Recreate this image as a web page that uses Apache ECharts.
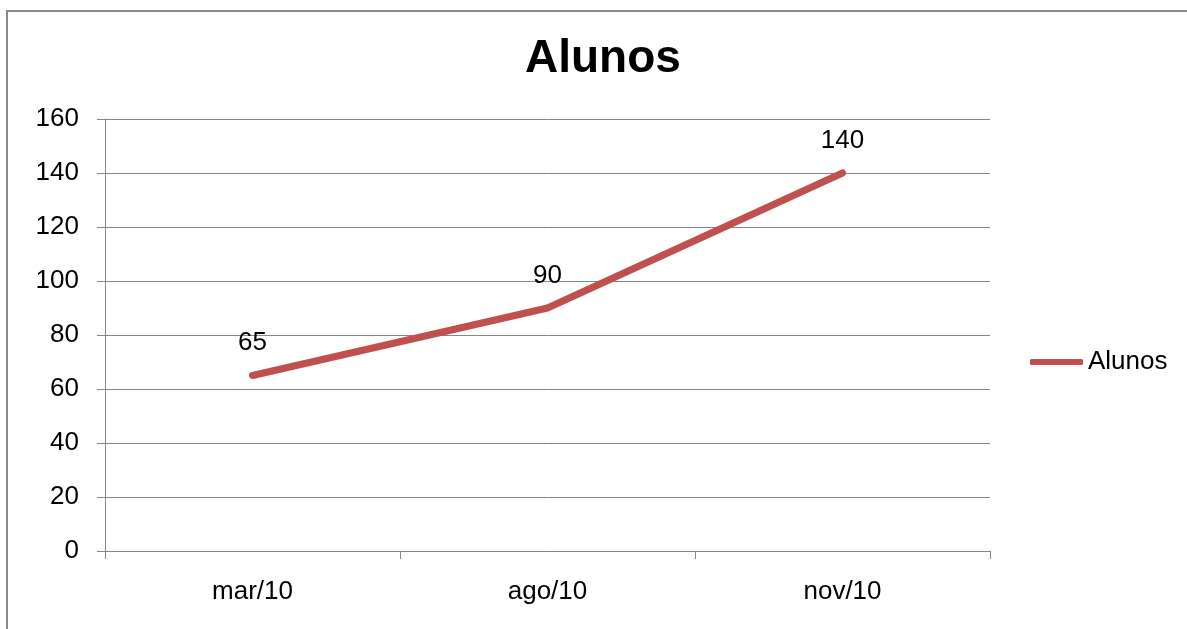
<!DOCTYPE html>
<html>
<head>
<meta charset="utf-8">
<script src="https://cdn.jsdelivr.net/npm/echarts@6/dist/echarts.min.js"></script>
<style>html,body{margin:0;padding:0;background:#fff;}#c{width:1187px;height:629px;}</style>
</head>
<body>
<div id="c"></div>
<script>
const categories = ['mar/10', 'ago/10', 'nov/10'];
const alunos = [65, 90, 140];
const yTicks = { min: 0, max: 160, interval: 20 };
const seriesName = 'Alunos';
const chartTitle = 'Alunos';

const FONT = '"Liberation Sans", Arial, sans-serif';
const chart = echarts.init(document.getElementById('c'), null, { renderer: 'canvas' });
chart.setOption({
  backgroundColor: '#ffffff',
  animation: false,
  graphic: [{
    type: 'rect', shape: { x: 7, y: 11, width: 1300, height: 800 },
    style: { fill: 'none', stroke: '#8a8a8a', lineWidth: 2 }, silent: true, z: -1
  }],
  title: {
    text: chartTitle, left: 525, top: 36, padding: 0,
    textStyle: { fontFamily: FONT, fontSize: 46, fontWeight: 'bold', color: '#000' }
  },
  legend: {
    data: [seriesName], orient: 'vertical', left: 1030, top: 349, padding: 0,
    itemWidth: 53, itemHeight: 6, icon: 'roundRect',
    textStyle: { fontFamily: FONT, fontSize: 26, color: '#000' }
  },
  grid: { left: 105, right: 197, top: 119, bottom: 78, containLabel: false },
  xAxis: {
    type: 'category', data: categories, boundaryGap: true,
    axisLine: { lineStyle: { color: '#868686', width: 1 } },
    axisTick: { show: true, length: 8, lineStyle: { color: '#868686' } },
    axisLabel: { margin: 28, fontFamily: FONT, fontSize: 26, color: '#000' },
    splitLine: { show: false }
  },
  yAxis: {
    type: 'value', min: yTicks.min, max: yTicks.max, interval: yTicks.interval,
    axisLine: { show: true, lineStyle: { color: '#868686', width: 1 } },
    axisTick: { show: true, length: 8, lineStyle: { color: '#868686' } },
    axisLabel: { margin: 26, fontFamily: FONT, fontSize: 26, color: '#000' },
    splitLine: { show: true, lineStyle: { color: '#868686', width: 1 } }
  },
  series: [{
    name: seriesName, type: 'line', data: alunos,
    symbol: 'circle', symbolSize: 1, showSymbol: true,
    itemStyle: { color: '#C0504D' },
    lineStyle: { color: '#C0504D', width: 7, cap: 'round', join: 'round' },
    label: { show: true, position: 'top', distance: 19, fontFamily: FONT, fontSize: 26, color: '#000' }
  }]
});
</script>
</body>
</html>
